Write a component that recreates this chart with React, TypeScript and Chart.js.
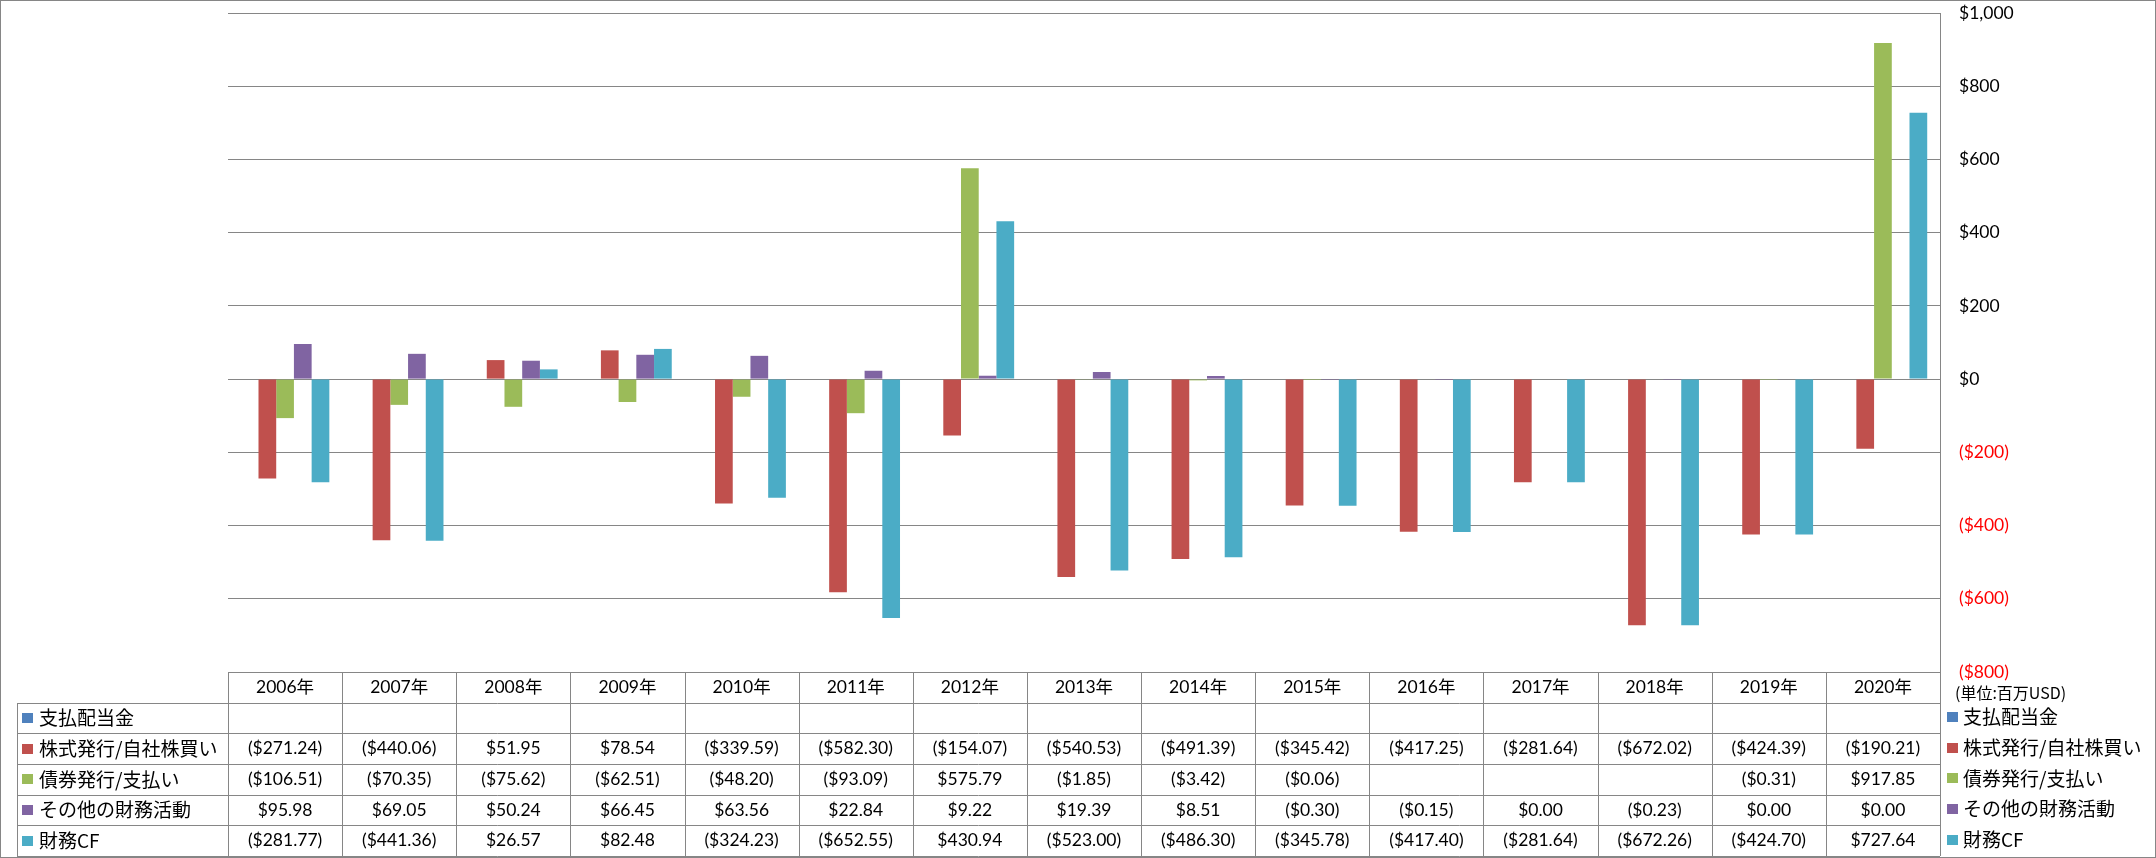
import React, { useEffect, useRef } from "react";
import { Chart, registerables } from "chart.js";

Chart.register(...registerables);

const years = ["2006年", "2007年", "2008年", "2009年", "2010年", "2011年", "2012年", "2013年", "2014年", "2015年", "2016年", "2017年", "2018年", "2019年", "2020年"];

const seriesNames = ["支払配当金", "株式発行/自社株買い", "債券発行/支払い", "その他の財務活動", "財務CF"];
const seriesColors = ["#4F81BD", "#C0504D", "#9BBB59", "#8064A2", "#4BACC6"];

const dividends: (number | null)[] = [null, null, null, null, null, null, null, null, null, null, null, null, null, null, null];
const equity: (number | null)[] = [-271.24, -440.06, 51.95, 78.54, -339.59, -582.30, -154.07, -540.53, -491.39, -345.42, -417.25, -281.64, -672.02, -424.39, -190.21];
const debt: (number | null)[] = [-106.51, -70.35, -75.62, -62.51, -48.20, -93.09, 575.79, -1.85, -3.42, -0.06, null, null, null, -0.31, 917.85];
const other: (number | null)[] = [95.98, 69.05, 50.24, 66.45, 63.56, 22.84, 9.22, 19.39, 8.51, -0.30, -0.15, 0.00, -0.23, 0.00, 0.00];
const financingCF: (number | null)[] = [-281.77, -441.36, 26.57, 82.48, -324.23, -652.55, 430.94, -523.00, -486.30, -345.78, -417.40, -281.64, -672.26, -424.70, 727.64];

const seriesValues = [dividends, equity, debt, other, financingCF];

const yMin = -800;
const yMax = 1000;
const yStep = 200;
const unitLabel = "(単位:百万USD)";

const W = 2156;
const H = 858;
const GRAY = "#868686";
const NUM_FONT = "17.5px Lato, 'Noto Sans CJK JP', sans-serif";
const JP_FONT = "19px 'Noto Sans CJK JP', sans-serif";

function fmtMoney(v: number | null): string {
  if (v === null || v === undefined) return "";
  if (v < 0) return "($" + Math.abs(v).toFixed(2) + ")";
  return "$" + v.toFixed(2);
}

function fmtAxis(v: number): string {
  const a = Math.abs(v).toLocaleString("en-US");
  if (v < 0) return "($" + a + ")";
  return "$" + a;
}

const tablePlugin = {
  id: "dataTable",
  afterDraw(chart: any) {
    const ctx = chart.ctx as CanvasRenderingContext2D;
    const area = chart.chartArea;
    const xs = chart.scales.x;
    const n = years.length;
    const colW = n > 1 ? xs.getPixelForValue(1) - xs.getPixelForValue(0) : area.right - area.left;
    const top = area.bottom;
    const bottom = H - 2;
    const rowH = (bottom - top) / 6;
    const leftCol = 17;
    const al = (v: number) => Math.round(v) + 0.5;

    ctx.save();
    ctx.strokeStyle = GRAY;
    ctx.lineWidth = 1;
    ctx.beginPath();
    for (let r = 1; r <= 6; r++) {
      const y = al(top + r * rowH);
      ctx.moveTo(leftCol, y);
      ctx.lineTo(area.right, y);
    }
    for (let i = 0; i <= n; i++) {
      const x = al(xs.getPixelForValue(i) - colW / 2);
      ctx.moveTo(x, top);
      ctx.lineTo(x, bottom);
    }
    ctx.moveTo(al(leftCol), al(top + rowH));
    ctx.lineTo(al(leftCol), bottom);
    ctx.stroke();

    ctx.fillStyle = "#000000";
    ctx.textAlign = "center";
    ctx.textBaseline = "middle";
    ctx.font = NUM_FONT;
    for (let i = 0; i < n; i++) {
      const cx = xs.getPixelForValue(i);
      ctx.fillText(years[i], cx, top + rowH / 2);
    }
    for (let s = 0; s < seriesValues.length; s++) {
      const cy = top + rowH * (s + 1) + rowH / 2;
      for (let i = 0; i < n; i++) {
        const cx = xs.getPixelForValue(i);
        ctx.fillText(fmtMoney(seriesValues[s][i]), cx, cy);
      }
    }
    ctx.textAlign = "left";
    ctx.font = JP_FONT;
    for (let s = 0; s < seriesNames.length; s++) {
      const cy = top + rowH * (s + 1) + rowH / 2;
      ctx.fillStyle = seriesColors[s];
      ctx.fillRect(22, Math.round(cy - 5), 11, 10);
      ctx.fillRect(area.right + 7, Math.round(cy - 6), 11, 10);
      ctx.fillStyle = "#000000";
      ctx.fillText(seriesNames[s], 39, cy);
      ctx.fillText(seriesNames[s], area.right + 23, cy - 1);
    }
    ctx.font = "16px 'Noto Sans CJK JP', sans-serif";
    ctx.fillText(unitLabel, area.right + 15, top + 21);

    ctx.strokeStyle = GRAY;
    ctx.strokeRect(0.5, 0.5, W - 1, H - 1);
    ctx.restore();
  },
};

export default function App() {
  const ref = useRef<HTMLCanvasElement | null>(null);
  useEffect(() => {
    if (!ref.current) return;
    const chart = new Chart(ref.current, {
      type: "bar",
      data: {
        labels: years,
        datasets: seriesNames.map((name, i) => ({
          label: name,
          data: seriesValues[i],
          backgroundColor: seriesColors[i],
          borderWidth: 0,
          barPercentage: 1,
          categoryPercentage: 0.776,
        })),
      },
      options: {
        responsive: false,
        animation: false,
        layout: { padding: { left: 228, top: 13, bottom: 186, right: 0 } },
        plugins: { legend: { display: false }, tooltip: { enabled: false } },
        scales: {
          x: { display: false },
          y: {
            position: "right",
            min: yMin,
            max: yMax,
            ticks: {
              stepSize: yStep,
              padding: 19,
              font: { family: "Lato, 'Noto Sans CJK JP', sans-serif", size: 17.5 },
              color: (c: any) => (c.tick && c.tick.value < 0 ? "#FF0000" : "#000000"),
              callback: (v: any) => fmtAxis(Number(v)),
            },
            grid: { color: GRAY, lineWidth: 1, drawTicks: false },
            border: { display: true, color: GRAY, width: 1 },
            afterFit: (s: any) => {
              s.width = 216;
              s.paddingTop = 0;
              s.paddingBottom = 0;
            },
          },
        },
      },
      plugins: [tablePlugin],
    } as any);
    return () => chart.destroy();
  }, []);
  return (
    <div style={{ position: "fixed", left: 0, top: 0, width: W, height: H, background: "#fff" }}>
      <canvas ref={ref} width={W} height={H} style={{ width: W, height: H, display: "block" }} />
    </div>
  );
}
